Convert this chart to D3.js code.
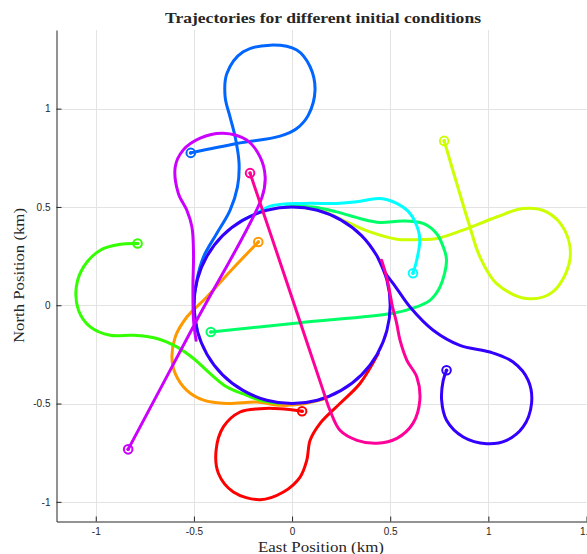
<!DOCTYPE html>
<html>
<head>
<meta charset="utf-8">
<script src="https://cdn.jsdelivr.net/npm/d3@7"></script>
<style>
body { margin: 0; background: #fff; }
text { fill: #262626; }
</style>
</head>
<body>
<svg id="svg" width="587" height="554"></svg>
<script>
// axis ticks
const xTicks = [-1, -0.5, 0, 0.5, 1, 1.5]
const yTicks = [-1, -0.5, 0, 0.5, 1]

// MATLAB hsv(10) colours, in drawing order
const colors = ['#ff0000', '#ff9900', '#ccff00', '#33ff00', '#00ff66',
                '#00ffff', '#0066ff', '#3300ff', '#cc00ff', '#ff0099']

// trajectories in km (east, north), first point = start marker
const pathRed = [[0.051, -0.539], [-0.061, -0.526], [-0.163, -0.526], [-0.265, -0.543],
    [-0.350, -0.619], [-0.387, -0.738], [-0.375, -0.856], [-0.299, -0.950], [-0.163, -0.989],
    [-0.044, -0.950], [0.041, -0.874], [0.075, -0.789], [0.092, -0.687], [0.142, -0.602],
    [0.244, -0.500], [0.346, -0.398], [0.439, -0.246]]
const pathOrange = [[-0.172, 0.322], [-0.305, 0.183], [-0.434, 0.042], [-0.536, -0.060],
    [-0.595, -0.161], [-0.612, -0.263], [-0.595, -0.348], [-0.536, -0.433], [-0.451, -0.483],
    [-0.332, -0.500], [-0.180, -0.492], [-0.061, -0.509], [0.041, -0.504], [0.159, -0.478]]
const pathYellow = [[0.775, 0.836], [0.840, 0.616], [0.906, 0.398], [0.957, 0.246],
    [1.042, 0.110], [1.194, 0.034], [1.328, 0.068], [1.415, 0.229], [1.389, 0.382],
    [1.296, 0.475], [1.176, 0.492], [1.042, 0.449], [0.870, 0.382], [0.736, 0.339],
    [0.651, 0.334], [0.533, 0.336], [0.397, 0.373], [0.278, 0.424], [0.142, 0.483], [0.041, 0.499]]
const pathGreen = [[-0.787, 0.314], [-0.875, 0.310], [-0.977, 0.280], [-1.062, 0.195],
    [-1.099, 0.093], [-1.088, -0.025], [-1.028, -0.110], [-0.926, -0.153], [-0.808, -0.153],
    [-0.689, -0.169], [-0.587, -0.212], [-0.502, -0.271], [-0.417, -0.348], [-0.332, -0.416],
    [-0.231, -0.458], [-0.163, -0.483], [-0.061, -0.499]]
const pathSpring = [[-0.414, -0.136], [0.041, -0.089], [0.514, -0.041], [0.616, -0.015],
    [0.702, 0.025], [0.753, 0.092], [0.787, 0.229], [0.770, 0.297], [0.736, 0.365],
    [0.667, 0.416], [0.565, 0.429], [0.448, 0.421], [0.346, 0.441], [0.227, 0.475],
    [0.107, 0.500], [-0.036, 0.501]]
const pathCyan = [[0.616, 0.163], [0.635, 0.229], [0.651, 0.331], [0.643, 0.382],
    [0.601, 0.467], [0.533, 0.518], [0.448, 0.543], [0.329, 0.526], [0.227, 0.518],
    [0.058, 0.518], [-0.112, 0.504], [-0.198, 0.458], [-0.265, 0.425]]
const pathBlue = [[-0.516, 0.775], [-0.281, 0.823], [-0.061, 0.860], [0.024, 0.899],
    [0.083, 0.967], [0.117, 1.094], [0.092, 1.213], [0.024, 1.298], [-0.112, 1.323],
    [-0.249, 1.289], [-0.332, 1.179], [-0.341, 1.060], [-0.316, 0.958], [-0.290, 0.857],
    [-0.270, 0.723], [-0.278, 0.602], [-0.316, 0.483], [-0.383, 0.366], [-0.451, 0.246],
    [-0.485, 0.127], [-0.499, 0.000], [-0.483, -0.129]]
const pathIndigo = [[0.787, -0.331], [0.770, -0.382], [0.762, -0.483], [0.787, -0.585],
    [0.872, -0.670], [0.991, -0.704], [1.093, -0.687], [1.177, -0.619], [1.220, -0.500],
    [1.203, -0.382], [1.126, -0.289], [1.008, -0.238], [0.855, -0.204], [0.719, -0.127],
    [0.601, -0.009], [0.530, 0.090], [0.468, 0.176],
    // loiter circle, radius 0.5 km
    [0.433, 0.250], [0.354, 0.354], [0.250, 0.433], [0.129, 0.483], [0.000, 0.500],
    [-0.129, 0.483], [-0.250, 0.433], [-0.354, 0.354], [-0.433, 0.250], [-0.483, 0.129],
    [-0.500, 0.000], [-0.483, -0.129], [-0.433, -0.250], [-0.354, -0.354], [-0.250, -0.433],
    [-0.129, -0.483], [0.000, -0.500], [0.129, -0.483], [0.250, -0.433], [0.354, -0.354],
    [0.433, -0.250], [0.483, -0.129], [0.500, 0.000], [0.483, 0.129], [0.433, 0.250]]
const pathPurple = [[-0.835, -0.733], [-0.494, -0.092], [-0.153, 0.550], [-0.137, 0.653],
    [-0.163, 0.755], [-0.231, 0.840], [-0.351, 0.875], [-0.468, 0.850], [-0.555, 0.789],
    [-0.595, 0.704], [-0.579, 0.568], [-0.536, 0.483], [-0.510, 0.398], [-0.502, 0.263],
    [-0.505, 0.093], [-0.502, -0.076], [-0.489, -0.178]]
const pathPink = [[-0.214, 0.672], [-0.025, 0.112], [0.158, -0.433], [0.193, -0.534],
    [0.244, -0.636], [0.331, -0.687], [0.433, -0.702], [0.534, -0.677], [0.616, -0.601],
    [0.651, -0.483], [0.636, -0.366], [0.585, -0.280], [0.550, -0.178], [0.533, -0.092],
    [0.510, 0.000], [0.495, 0.080], [0.480, 0.150], [0.456, 0.229]]

const paths = [pathRed, pathOrange, pathYellow, pathGreen, pathSpring,
               pathCyan, pathBlue, pathIndigo, pathPurple, pathPink]

const x = d3.scaleLinear().domain([-1.2, 1.5]).range([56.5, 586.5])
const y = d3.scaleLinear().domain([-1.1, 1.4]).range([521.5, 30])

const svg = d3.select('#svg')

svg.append('clipPath').attr('id', 'plot')
    .append('rect')
    .attr('x', x(-1.2)).attr('y', y(1.4))
    .attr('width', x(1.5) - x(-1.2)).attr('height', y(-1.1) - y(1.4))

// grid
const grid = svg.append('g').attr('stroke', '#e3e3e3').attr('stroke-width', 1)
grid.selectAll('.gx').data(xTicks).enter().append('line')
    .attr('x1', d => Math.round(x(d)) + 0.5).attr('x2', d => Math.round(x(d)) + 0.5)
    .attr('y1', y(1.4)).attr('y2', y(-1.1))
grid.selectAll('.gy').data(yTicks).enter().append('line')
    .attr('y1', d => Math.round(y(d)) + 0.5).attr('y2', d => Math.round(y(d)) + 0.5)
    .attr('x1', x(-1.2)).attr('x2', x(1.5))

// trajectories
const line = d3.line()
    .x(d => x(d[0]))
    .y(d => y(d[1]))
    .curve(d3.curveCatmullRom.alpha(0.5))

const plot = svg.append('g').attr('clip-path', 'url(#plot)')
paths.forEach((p, i) => {
    plot.append('path')
        .attr('d', line(p))
        .attr('fill', 'none')
        .attr('stroke', colors[i])
        .attr('stroke-width', 3)
        .attr('stroke-linejoin', 'round')
        .attr('stroke-linecap', 'round')
    plot.append('circle')
        .attr('cx', x(p[0][0])).attr('cy', y(p[0][1]))
        .attr('r', 4.3)
        .attr('fill', 'none')
        .attr('stroke', colors[i])
        .attr('stroke-width', 2)
    plot.append('circle')
        .attr('cx', x(p[0][0])).attr('cy', y(p[0][1]))
        .attr('r', 1.8)
        .attr('fill', colors[i])
})

// axes
const xAxis = svg.append('g')
    .attr('transform', `translate(0,${y(-1.1)})`)
    .call(d3.axisBottom(x).tickValues(xTicks).tickSizeInner(-5).tickSizeOuter(0)
        .tickPadding(6).tickFormat(d => String(d)))
const yAxis = svg.append('g')
    .attr('transform', `translate(${x(-1.2)},0)`)
    .call(d3.axisLeft(y).tickValues(yTicks).tickSizeInner(-5).tickSizeOuter(0)
        .tickPadding(6).tickFormat(d => String(d)))

;[xAxis, yAxis].forEach(a => {
    a.select('.domain').attr('stroke', '#262626')
    a.selectAll('.tick line').attr('stroke', '#262626')
    a.selectAll('.tick text')
        .attr('font-family', '"Liberation Sans", Arial, sans-serif')
        .attr('font-size', 10)
        .attr('fill', '#262626')
})

// labels
const serif = '"Liberation Serif", "DejaVu Serif", serif'
svg.append('text')
    .attr('x', 323).attr('y', 22.5)
    .attr('text-anchor', 'middle')
    .attr('font-family', serif)
    .attr('font-weight', 'bold')
    .attr('font-size', 15.5)
    .attr('textLength', 316)
    .attr('lengthAdjust', 'spacingAndGlyphs')
    .text('Trajectories for different initial conditions')

svg.append('text')
    .attr('x', 321).attr('y', 552)
    .attr('text-anchor', 'middle')
    .attr('font-family', serif)
    .attr('font-size', 15)
    .attr('textLength', 126)
    .attr('lengthAdjust', 'spacingAndGlyphs')
    .text('East Position (km)')

svg.append('text')
    .attr('transform', 'translate(24,275.5) rotate(-90)')
    .attr('text-anchor', 'middle')
    .attr('font-family', serif)
    .attr('font-size', 15.5)
    .attr('textLength', 135)
    .attr('lengthAdjust', 'spacingAndGlyphs')
    .text('North Position (km)')
</script>
</body>
</html>
